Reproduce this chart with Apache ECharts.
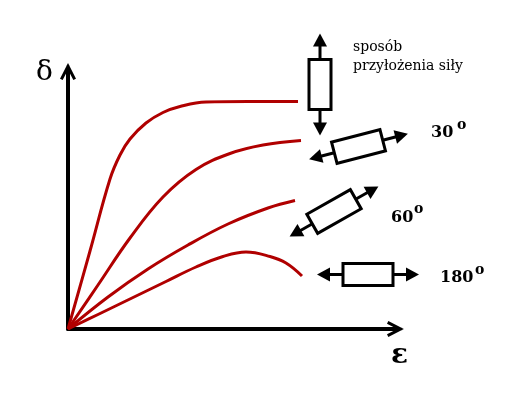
<!DOCTYPE html>
<html>
<head>
<meta charset="utf-8">
<script src="https://cdn.jsdelivr.net/npm/echarts@6/dist/echarts.min.js"></script>
<style>html,body{margin:0;padding:0;background:#fff}#c{width:522px;height:399px}</style>
</head>
<body>
<div id="c"></div>
<script>
// Schematic curves δ(ε) for different load directions (arbitrary units)
const curve0 = [[0,0],[22,78],[42,150],[52,174],[62,190],[78,206],[95,216.5],[112,222.5],[138,227],[180,227.5],[230,227.5]];
const curve30 = [[0,0],[30,44],[62,91],[95,132],[128,159.5],[162,175.5],[195,184],[233,188.5]];
const curve60 = [[0,0],[40,32],[80,60],[120,84],[160,105],[200,121],[227,128.5]];
const curve180 = [[0,0],[30,14.5],[64,31],[98,47.5],[128,62],[155,72.5],[178,77],[202,72.5],[218,66],[234,53]];
const seriesData = [curve0, curve30, curve60, curve180];
const angleLabels = ['30', '60', '180'];
const degreeMark = 'o';
const axisNames = { x: 'ε', y: 'δ' };
const legendTitle = ['sposób', 'przyłożenia siły'];

const RED = '#b00000';
const SERIF = '"DejaVu Serif", serif';
const ARROW = 'path://M9,0 L18,17.5 L15,19 L9,7.5 L3,19 L0,17.5 Z M7.5,2 L10.5,2 L10.5,20 L7.5,20 Z';

function icon(cx, cy, deg) {
  const half = 51, head = 13, hw = 7, rw = 50, rh = 22;
  return {
    type: 'group', x: cx, y: cy, rotation: deg * Math.PI / 180,
    children: [
      { type: 'line', shape: { x1: -half + head - 1, y1: 0, x2: half - head + 1, y2: 0 }, style: { stroke: '#000', lineWidth: 3 } },
      { type: 'rect', shape: { x: -rw / 2, y: -rh / 2, width: rw, height: rh }, style: { fill: '#fff', stroke: '#000', lineWidth: 3 } },
      { type: 'polygon', shape: { points: [[half, 0], [half - head, -hw], [half - head, hw]] }, style: { fill: '#000' } },
      { type: 'polygon', shape: { points: [[-half, 0], [-half + head, -hw], [-half + head, hw]] }, style: { fill: '#000' } }
    ]
  };
}
function txt(x, y, s, font, align) {
  return { type: 'text', x: x, y: y, style: { text: s, font: font, fill: '#000', align: align || 'left', verticalAlign: 'middle' } };
}

const chart = echarts.init(document.getElementById('c'), null, { renderer: 'canvas' });
const axisCommon = {
  type: 'value', min: 0,
  axisLine: { show: true, symbol: ['none', ARROW], symbolSize: [16, 20], lineStyle: { color: '#000', width: 4 } },
  axisTick: { show: false }, axisLabel: { show: false }, splitLine: { show: false }
};
chart.setOption({
  animation: false,
  backgroundColor: '#fff',
  grid: { left: 68, right: 127, top: 72, bottom: 70 },
  xAxis: Object.assign({}, axisCommon, { max: 327 }),
  yAxis: Object.assign({}, axisCommon, { max: 257 }),
  series: seriesData.map(d => ({
    type: 'line', data: d, smooth: 0.4, showSymbol: false, z: 5,
    lineStyle: { color: RED, width: 3 }
  })),
  graphic: [
    icon(320, 84.5, 90),
    icon(358.5, 146.5, 14.5),
    icon(334, 211.5, 29.5),
    icon(368, 274.5, 0),
    txt(353, 47.5, legendTitle[0], '14px ' + SERIF),
    txt(353, 66.5, legendTitle[1], '14px ' + SERIF),
    txt(431, 133, angleLabels[0], 'bold 16px ' + SERIF),
    txt(457, 125, degreeMark, 'bold 14px ' + SERIF),
    txt(391, 217.5, angleLabels[1], 'bold 16px ' + SERIF),
    txt(414, 209.5, degreeMark, 'bold 14px ' + SERIF),
    txt(440, 278, angleLabels[2], 'bold 16px ' + SERIF),
    txt(475, 270, degreeMark, 'bold 14px ' + SERIF),
    txt(44.5, 73, axisNames.y, '28px ' + SERIF, 'center'),
    txt(399.5, 355.5, axisNames.x, 'bold 28px ' + SERIF, 'center')
  ]
});
</script>
</body>
</html>
